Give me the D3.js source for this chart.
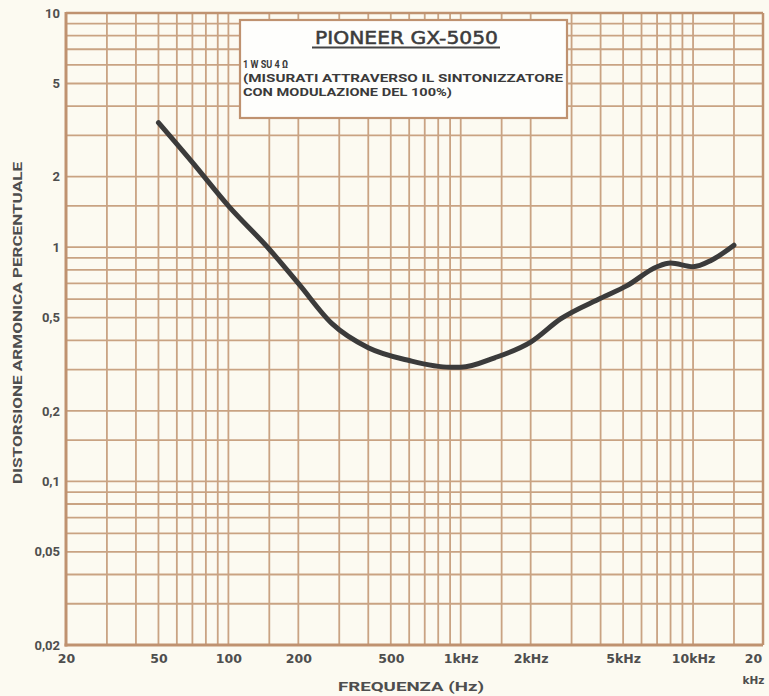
<!DOCTYPE html>
<html>
<head>
<meta charset="utf-8">
<script src="https://cdn.jsdelivr.net/npm/d3@7"></script>
<style>
  html, body { margin: 0; padding: 0; background: #fcfaf1; }
  svg { display: block; }
</style>
</head>
<body>
<script>
// ---- data ----
const freq = [50, 70, 100, 150, 200, 280, 400, 600, 900, 1000, 1400, 2000, 2700, 4000, 5200, 7000, 8000, 10000, 12000, 15000];
const thd  = [3.4, 2.3, 1.5, 0.98, 0.70, 0.47, 0.372, 0.328, 0.307, 0.307, 0.337, 0.393, 0.495, 0.605, 0.685, 0.825, 0.855, 0.825, 0.88, 1.02];

const xTickValues = [20, 50, 100, 200, 500, 1000, 2000, 5000, 10000, 20000];
const xTickLabels = ["20", "50", "100", "200", "500", "1kHz", "2kHz", "5kHz", "10kHz", "20"];
const yTickValues = [10, 5, 2, 1, 0.5, 0.2, 0.1, 0.05, 0.02];
const yTickLabels = ["10", "5", "2", "1", "0,5", "0,2", "0,1", "0,05", "0,02"];
const gridMultipliers = [1, 1.5, 2, 3, 4, 5, 6, 7, 8, 9];
const xDecades = [10, 100, 1000, 10000];
const yDecades = [0.01, 0.1, 1];

const titleText = "PIONEER GX-5050";
const noteLines = ["1 W SU 4 \u03A9", "(MISURATI ATTRAVERSO IL SINTONIZZATORE", "CON MODULAZIONE DEL 100%)"];
const xTitle = "FREQUENZA (Hz)";
const yTitle = "DISTORSIONE ARMONICA PERCENTUALE";

// ---- setup ----
const W = 769, H = 696;
const L = 66, R = 763, T = 13, B = 645;
const svg = d3.select("body").append("svg").attr("width", W).attr("height", H);
svg.append("rect").attr("width", W).attr("height", H).attr("fill", "#fcfaf1");

const x = d3.scaleLog().domain([20, 20000]).range([L, R]);
const y = d3.scaleLog().domain([0.02, 10]).range([B, T]);

const gridColor = "#c9a383";
const axisColor = "#bf9270";

// grid values
const xGrid = [];
xDecades.forEach(d => gridMultipliers.forEach(m => { const v = d * m; if (v >= 20 && v <= 20000) xGrid.push(v); }));
xGrid.push(20000);
const yGrid = [];
yDecades.forEach(d => gridMultipliers.forEach(m => { const v = +(d * m).toPrecision(3); if (v >= 0.02 && v <= 10) yGrid.push(v); }));
yGrid.push(10);

const g = svg.append("g");
g.selectAll("line.vg").data(xGrid).enter().append("line")
  .attr("x1", d => x(d)).attr("x2", d => x(d)).attr("y1", T).attr("y2", B)
  .attr("stroke", gridColor).attr("stroke-width", 1.8);
g.selectAll("line.hg").data(yGrid).enter().append("line")
  .attr("x1", L).attr("x2", R).attr("y1", d => y(d)).attr("y2", d => y(d))
  .attr("stroke", gridColor).attr("stroke-width", 1.8);

// frame
svg.append("line").attr("x1", L).attr("x2", R).attr("y1", T).attr("y2", T).attr("stroke", axisColor).attr("stroke-width", 2.5);
svg.append("line").attr("x1", R).attr("x2", R).attr("y1", T).attr("y2", B).attr("stroke", axisColor).attr("stroke-width", 2.5);
svg.append("line").attr("x1", L).attr("x2", L).attr("y1", T - 1).attr("y2", B + 1.5).attr("stroke", axisColor).attr("stroke-width", 3);
svg.append("line").attr("x1", L - 1.5).attr("x2", R).attr("y1", B).attr("y2", B).attr("stroke", axisColor).attr("stroke-width", 3);

// title box
const box = svg.append("g");
box.append("rect").attr("x", 240).attr("y", 20).attr("width", 327).attr("height", 98)
  .attr("fill", "#fefefc").attr("stroke", axisColor).attr("stroke-width", 2.2);
box.append("text").attr("x", 315).attr("y", 43.5).text(titleText)
  .attr("font-family", "DejaVu Sans").attr("font-size", 17).attr("fill", "#3c3c3c")
  .attr("stroke", "#3c3c3c").attr("stroke-width", 0.5)
  .attr("textLength", 183).attr("lengthAdjust", "spacingAndGlyphs");
box.append("line").attr("x1", 312).attr("x2", 500).attr("y1", 47.5).attr("y2", 47.5)
  .attr("stroke", "#444").attr("stroke-width", 2);
const noteWidths = [45, 320, 209];
const noteSizes = [11.5, 11.7, 11.7];
const noteY = [67.5, 81.7, 95.7];
noteLines.forEach((t, i) => {
  box.append("text").attr("x", 243).attr("y", noteY[i]).text(t)
    .attr("font-family", "Roboto").attr("font-weight", "bold").attr("font-size", noteSizes[i])
    .attr("fill", "#3a3a3a")
    .attr("textLength", noteWidths[i]).attr("lengthAdjust", "spacingAndGlyphs");
});

// curve
const line = d3.line().x(d => x(d[0])).y(d => y(d[1])).curve(d3.curveMonotoneX);
svg.append("path").datum(freq.map((f, i) => [f, thd[i]]))
  .attr("d", line).attr("fill", "none").attr("stroke", "#3b3b3b")
  .attr("stroke-width", 5).attr("stroke-linecap", "round").attr("stroke-linejoin", "round");

// x axis labels
const xAxis = d3.axisBottom(x).tickValues(xTickValues)
  .tickFormat((d, i) => xTickLabels[i]).tickSize(0).tickPadding(0);
const xa = svg.append("g").attr("transform", `translate(0,${B})`).call(xAxis);
xa.select(".domain").remove();
xa.selectAll("text")
  .attr("font-family", "DejaVu Sans").attr("font-weight", "bold").attr("font-size", 12.5)
  .attr("fill", "#4e4e4e").attr("dy", null).attr("y", 18);
xa.selectAll(".tick").filter(d => d === 20000).select("text").attr("dx", -10);
xa.selectAll(".tick").filter(d => d === 20000).append("text")
  .attr("x", -10).attr("y", 39).attr("text-anchor", "middle")
  .attr("font-family", "DejaVu Sans").attr("font-weight", "bold").attr("font-size", 10.5)
  .attr("fill", "#4e4e4e").text("kHz");

// y axis labels
const yAxis = d3.axisLeft(y).tickValues(yTickValues)
  .tickFormat((d, i) => yTickLabels[i]).tickSize(0).tickPadding(6);
const ya = svg.append("g").attr("transform", `translate(${L},0)`).call(yAxis);
ya.select(".domain").remove();
ya.selectAll("text")
  .attr("font-family", "Roboto").attr("font-weight", "bold").attr("font-size", 13)
  .attr("fill", "#4e4e4e");

// axis titles
svg.append("text").attr("x", 411).attr("y", 691).attr("text-anchor", "middle").text(xTitle)
  .attr("font-family", "Roboto").attr("font-weight", "bold").attr("font-size", 13.5)
  .attr("fill", "#4e4e4e").attr("textLength", 146).attr("lengthAdjust", "spacingAndGlyphs");
svg.append("text").attr("transform", "translate(22,323) rotate(-90)").attr("text-anchor", "middle").text(yTitle)
  .attr("font-family", "Roboto").attr("font-weight", "bold").attr("font-size", 13)
  .attr("fill", "#4e4e4e").attr("textLength", 322).attr("lengthAdjust", "spacingAndGlyphs");
</script>
</body>
</html>
